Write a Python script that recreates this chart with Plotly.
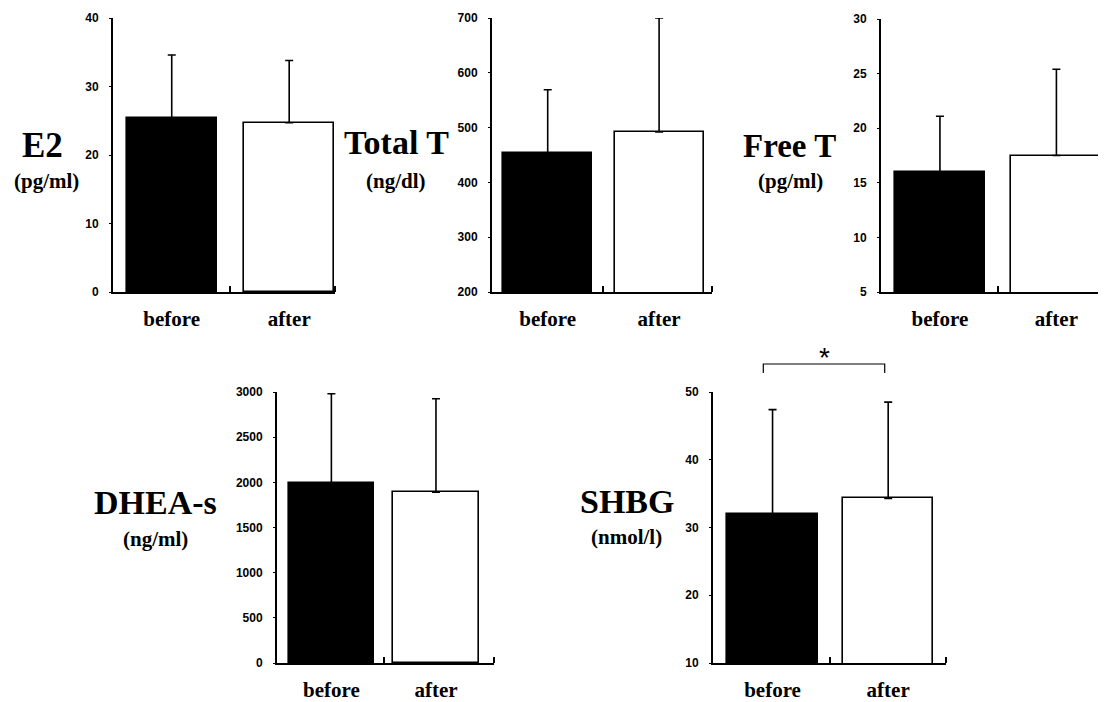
import plotly.graph_objects as go

# page body adds an 8px margin; figure is sized to end at the window edge
OFF = 8
FW, FH = 1106 - OFF, 702 - OFF


def fx(px):
    return (px - OFF) / FW


def fy(py):
    return 1 - (py - OFF) / FH


groups = ["before", "after"]

e2_mean = [25.4, 24.7]
e2_sd = [9.2, 9.1]
tt_mean = [454, 492]
tt_sd = [115, 208]
ft_mean = [16.0, 17.5]
ft_sd = [5.1, 7.9]
dhea_mean = [1990, 1890]
dhea_sd = [990, 1035]
shbg_mean = [32.0, 34.3]
shbg_sd = [15.4, 14.2]

titles = ["E2", "Total T", "Free T", "DHEA-s", "SHBG"]
units = ["(pg/ml)", "(ng/dl)", "(pg/ml)", "(ng/ml)", "(nmol/l)"]
yticks = [
    [0, 10, 20, 30, 40],
    [200, 300, 400, 500, 600, 700],
    [5, 10, 15, 20, 25, 30],
    [0, 500, 1000, 1500, 2000, 2500, 3000],
    [10, 20, 30, 40, 50],
]

means = [e2_mean, tt_mean, ft_mean, dhea_mean, shbg_mean]
sds = [e2_sd, tt_sd, ft_sd, dhea_sd, shbg_sd]

# layout (screen pixel geometry)
xdom_px = [(113, 335), (492, 712), (881, 1103), (277, 494), (713, 946)]
ydom_px = [(18, 292), (18, 292), (19, 292), (392, 663), (392, 663)]
xranges = [(-0.50, 1.39), (-0.50, 1.475), (-0.506, 1.40), (-0.52, 1.555), (-0.515, 1.50)]
bar_w = [0.77, 0.80, 0.78, 0.82, 0.78]
title_pos = [(42, 145), (396, 143), (789, 146), (155, 502), (627, 501)]
title_size = [35, 34, 33, 34, 34]
unit_pos = [(46, 181), (396, 181), (790, 181), (155, 539), (626, 537)]

serif = "Liberation Serif"
sans = "Liberation Sans"

fig = go.Figure()
for i in range(5):
    sfx = "" if i == 0 else str(i + 1)
    fig.add_trace(go.Bar(
        x=[0, 1], y=means[i],
        width=bar_w[i],
        marker=dict(color=["black", "white"], line=dict(color="black", width=1.6)),
        error_y=dict(type="data", symmetric=False, array=sds[i], arrayminus=[0, 0],
                     color="black", thickness=1.6, width=4),
        xaxis="x" + sfx, yaxis="y" + sfx, showlegend=False,
    ))
    x0, x1 = xdom_px[i]
    y0, y1 = ydom_px[i]
    yt = yticks[i]
    fig.layout["xaxis" + sfx] = dict(
        domain=[max(fx(x0), 0), min(fx(x1), 1)], range=list(xranges[i]), anchor="y" + sfx,
        tickvals=[0, 1], ticktext=groups, ticks="", showgrid=False, zeroline=False,
        showline=True, linecolor="black", linewidth=2, automargin=False,
        tickfont=dict(family=serif, size=21, color="black", weight="bold"),
        ticklabelstandoff=7,
        minor=dict(tickvals=[0.5, xranges[i][1]], ticks="inside", ticklen=6,
                   tickcolor="black", tickwidth=1.5, showgrid=False),
        fixedrange=True,
    )
    fig.layout["yaxis" + sfx] = dict(
        domain=[fy(y1), fy(y0)], range=[yt[0], yt[-1]], anchor="x" + sfx,
        tickvals=yt, ticks="outside", ticklen=2, tickcolor="black", tickwidth=1,
        showgrid=False, zeroline=False, showline=True, linecolor="black", linewidth=2,
        automargin=False,
        tickfont=dict(family=sans, size=12, color="black", weight="bold"),
        ticklabelstandoff=8, fixedrange=True,
    )
    tx, ty = title_pos[i]
    fig.add_annotation(x=fx(tx), y=fy(ty), xref="paper", yref="paper",
                       text=titles[i], showarrow=False, xanchor="center", yanchor="middle",
                       font=dict(family=serif, size=title_size[i], color="black", weight="bold"))
    ux, uy = unit_pos[i]
    fig.add_annotation(x=fx(ux), y=fy(uy), xref="paper", yref="paper",
                       text=units[i], showarrow=False, xanchor="center", yanchor="middle",
                       font=dict(family=serif, size=21, color="black", weight="bold"))

# significance bracket on SHBG
bx0, bx1 = -0.08, 0.97
fig.add_shape(type="path", xref="x5", yref="paper",
              path=f"M {bx0},{fy(373)} L {bx0},{fy(364)} L {bx1},{fy(364)} L {bx1},{fy(373)}",
              line=dict(color="black", width=1.2))
fig.add_annotation(x=(bx0 + bx1) / 2, y=fy(357), xref="x5", yref="paper",
                   text="*", showarrow=False, xanchor="center", yanchor="middle",
                   font=dict(family=sans, size=28, color="black"))

fig.update_layout(width=FW, height=FH, margin=dict(l=0, r=0, t=0, b=0, autoexpand=False),
                  paper_bgcolor="white", plot_bgcolor="white", bargap=0)
fig.write_html("out.html")
